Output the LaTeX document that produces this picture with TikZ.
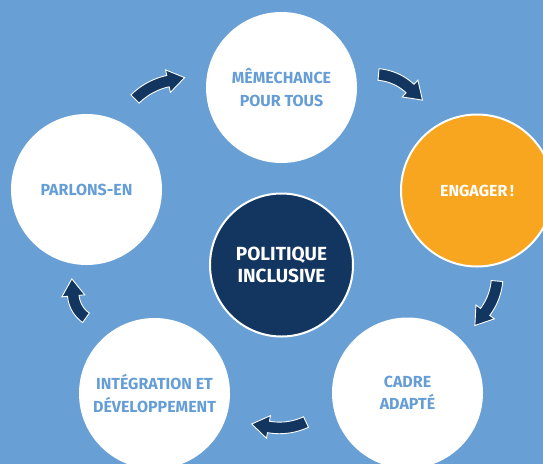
\documentclass[tikz,border=0pt]{standalone}
\usepackage{fontspec}
\setmainfont{Fira Sans}
\usetikzlibrary{calc}
\definecolor{bg}{HTML}{689FD5}
\definecolor{navy}{HTML}{12365F}
\definecolor{orng}{HTML}{F8A620}
\definecolor{txtblue}{HTML}{659ED6}
\tikzset{
  stage/.style={circle, fill=white, inner sep=0pt, minimum size=151pt,
    text=txtblue, font=\bfseries\fontsize{16}{22.5}\selectfont, align=center},
  hotstage/.style={stage, fill=orng, draw=white, line width=2pt, minimum size=152pt, text=white},
  corestage/.style={circle, fill=navy, draw=white, line width=2pt, inner sep=0pt,
    minimum size=143pt, text=white, font=\bfseries\fontsize{19}{22}\selectfont, align=center},
  cyclearr/.style={fill=navy, draw=white, line width=0.9pt, line join=miter}
}
% #1,#2 centre of the arc, #3 radius, #4 start angle, #5 end angle (clockwise on screen)
\newcommand\myarrow[5]{%
  \begin{scope}[shift={(#1,#2)}]
    \draw[cyclearr] plot[domain=#4:#5,samples=24] (\x:{#3+5.8})
      -- (#5:{#3+11.5}) -- ($(#5:#3)+({#5+90}:17)$) -- (#5:{#3-11.5})
      -- plot[domain=#5:#4,samples=24] (\x:{#3-5.8}) -- cycle;
  \end{scope}}
\begin{document}
\begin{tikzpicture}[x=1pt,y=-1pt]
  \useasboundingbox (0,0) rectangle (543,464);
  \clip (0,0) rectangle (543,464);
  \fill[bg] (0,0) rectangle (543,464);

  \node[stage] (chance) at (281.5,87.5) {MÊMECHANCE\\POUR TOUS};
  \node[hotstage] (engager) at (477,190.5) {ENGAGER\,!};
  \node[stage] (cadre) at (407.5,393) {CADRE\\ADAPTÉ};
  \node[stage] (integ) at (154.5,393.5) {INTÉGRATION ET\\DÉVELOPPEMENT};
  \node[stage] (parlons) at (86.5,189.5) {PARLONS-EN};
  \node[corestage] (core) at (281.5,265) {POLITIQUE\\INCLUSIVE};

  \myarrow{181.7}{145.7}{66}{-135}{-102}
  \myarrow{373.9}{127.3}{53}{-85}{-47}
  \myarrow{437.2}{275.8}{60}{5}{37}
  \myarrow{279.4}{364.9}{63}{65}{100}
  \myarrow{103.2}{293.2}{30}{125}{175}
\end{tikzpicture}
\end{document}
